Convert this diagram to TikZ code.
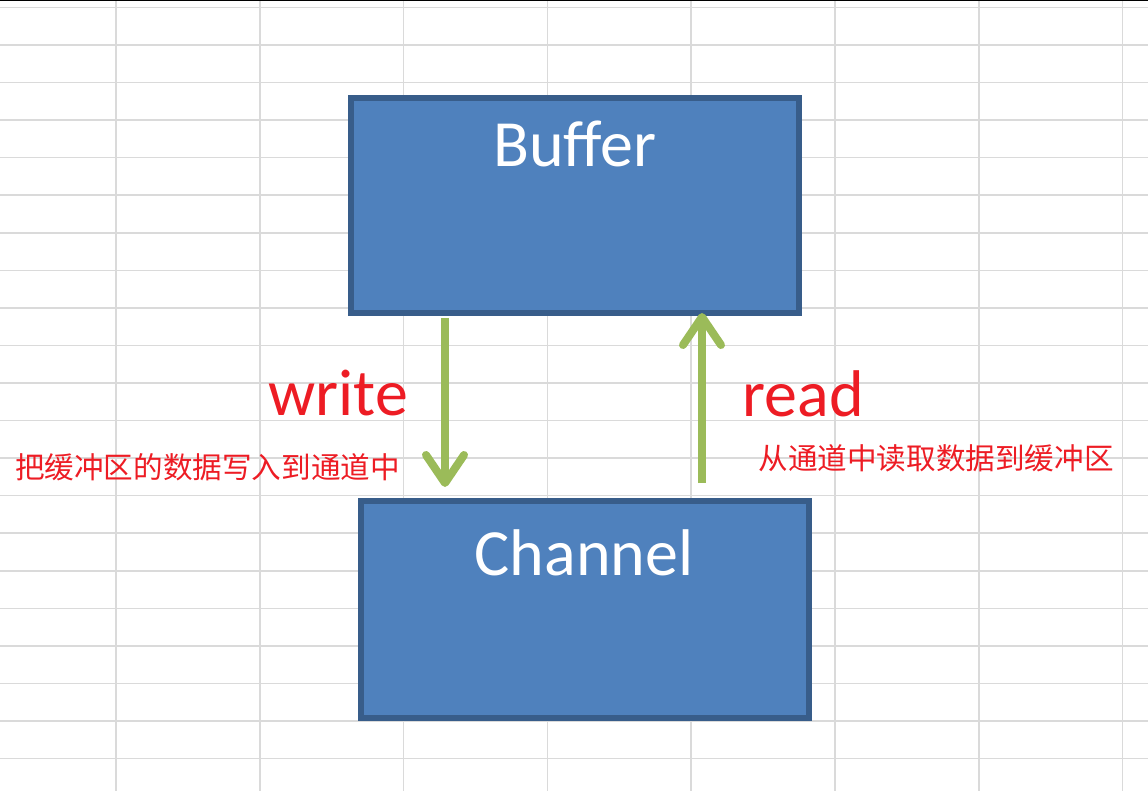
\documentclass[tikz,border=0pt]{standalone}
\usepackage{fontspec}
\setmainfont{Carlito}
\newfontfamily\cjk{Noto Sans CJK SC}
\usetikzlibrary{
  calc, % For arrow end points
  arrows.meta % For arrow tips
}
\definecolor{boxfill}{HTML}{4F81BD}
\definecolor{boxline}{HTML}{385D8A}
\definecolor{flowgreen}{HTML}{9BBB59}
\definecolor{gridgray}{HTML}{DADADA}
\definecolor{notered}{HTML}{ED1C24}

\begin{document}
\begin{tikzpicture}[
      x=1pt, y=-1pt, % Pixel units, y downwards
      box/.style={draw=boxline, fill=boxfill, line width=6pt, inner sep=0pt, minimum width=448pt}, % Style for the two blocks
      boxtext/.style={white, anchor=base, inner sep=0pt, font=\fontsize{66}{72}\selectfont},
      opname/.style={notered, anchor=base, inner sep=0pt, font=\fontsize{66}{72}\selectfont},
      note/.style={notered, anchor=base, inner sep=0pt, font=\cjk\fontsize{29.6}{32}\selectfont},
      flow/.style={flowgreen, line width=8pt, -{Straight Barb[round, length=28pt, width=38pt]}}, % Style for write/read arrows
    ]

    \useasboundingbox (0,0) rectangle (1148,791);

    % Tabellengitter
    \foreach \i in {0,...,20}
      \draw[gridgray, line width=1.5pt] (0, 7.5 + 37.55*\i) -- (1148, 7.5 + 37.55*\i);
    \foreach \i in {0,...,7}
      \draw[gridgray, line width=1.5pt] (116 + 143.8*\i, 0) -- (116 + 143.8*\i, 791);
    \draw[black, line width=1.5pt] (0, 0.75) -- (1148, 0.75);

    % Buffer und Channel
    \node[box, minimum height=215pt] (buffer) at (575, 205.5) {};
    \node[box, minimum height=217pt] (channel) at (585, 609.5) {};
    \node[boxtext] (buffertext) at ($(buffer.north)+(0,72)$) {Buffer};
    \node[boxtext] (channeltext) at ($(channel.north)+(-1,77)$) {Channel};

    % write (nach unten)
    \coordinate (writex) at (445, 0);
    \draw[flow] ($(buffer.south -| writex)+(0,2)$) -- ($(channel.north -| writex)+(0,-11)$);
    % read (nach oben)
    \coordinate (readx) at (702, 0);
    \draw[flow] ($(channel.north -| readx)+(0,-15)$) -- ($(buffer.south -| readx)+(0,-3)$);

    \node[opname] (write) at (338, 415) {write};
    \node[opname] (read) at (803, 416) {read};
    \node[note] (writenote) at (207.5, 478) {把缓冲区的数据写入到通道中};
    \node[note] (readnote) at (936, 469) {从通道中读取数据到缓冲区};

  \end{tikzpicture}
\end{document}
